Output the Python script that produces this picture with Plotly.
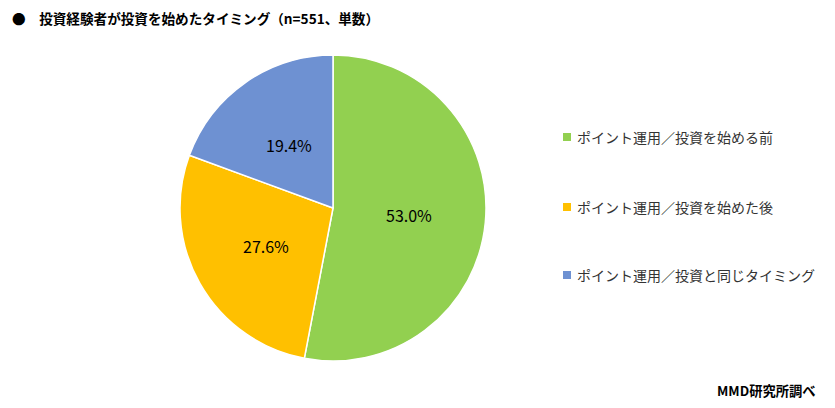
import math
import plotly.graph_objects as go

labels = ["ポイント運用／投資を始める前", "ポイント運用／投資を始めた後", "ポイント運用／投資と同じタイミング"]
values = [53.0, 27.6, 19.4]
colors = ["#92D050", "#FFC000", "#6E91D2"]
title_text = "●　投資経験者が投資を始めたタイミング（n=551、単数）"
source_text = "MMD研究所調べ"

W, H = 835, 408
OFF = 8  # page offset compensation
cx, cy, r = 333 - OFF, 208 - OFF, 153

fig = go.Figure(go.Pie(
    labels=labels, values=values, sort=False, direction="clockwise", rotation=0,
    marker=dict(colors=colors, line=dict(color="white", width=1.5)),
    textinfo="none",
    hoverinfo="label+value", showlegend=False,
    domain=dict(x=[(cx - r) / W, (cx + r) / W], y=[1 - (cy + r) / H, 1 - (cy - r) / H]),
))

font = "Noto Sans CJK JP"
annotations = [
    dict(text="<b>" + title_text + "</b>", x=(10 - OFF) / W, y=1 - (18 - OFF) / H, xref="paper", yref="paper",
         xanchor="left", yanchor="middle", showarrow=False,
         font=dict(family=font, size=13.6, color="#000000")),
    dict(text="<b>" + source_text + "</b>", x=(818 - OFF) / W, y=1 - (390 - OFF) / H, xref="paper", yref="paper",
         xanchor="right", yanchor="middle", showarrow=False,
         font=dict(family=font, size=13.3, color="#000000")),
]

# data labels at half radius, mid-angle of each slice
total = sum(values)
cum = 0.0
for v in values:
    mid = (cum + v / 2) / total * 2 * math.pi
    cum += v
    px = cx + 0.5 * r * math.sin(mid)
    py = cy - 0.5 * r * math.cos(mid)
    annotations.append(dict(text=f"{v:.1f}%", x=px / W, y=1 - py / H, xref="paper", yref="paper",
                            xanchor="center", yanchor="middle", showarrow=False,
                            font=dict(family=font, size=16, color="#000000")))

shapes = []
leg_y = [137, 207, 275]
for lab, col, yy in zip(labels, colors, leg_y):
    yy = yy - OFF
    shapes.append(dict(type="rect", xref="paper", yref="paper",
                       x0=(563 - OFF) / W, x1=(571 - OFF) / W, y0=1 - (yy + 4) / H, y1=1 - (yy - 4) / H,
                       fillcolor=col, line=dict(width=0)))
    annotations.append(dict(text=lab, x=(575 - OFF) / W, y=1 - yy / H, xref="paper", yref="paper",
                            xanchor="left", yanchor="middle", showarrow=False,
                            font=dict(family=font, size=14, color="#333333")))

fig.update_layout(
    width=W, height=H, margin=dict(l=0, r=0, t=0, b=0),
    paper_bgcolor="white", plot_bgcolor="white",
    annotations=annotations, shapes=shapes,
)
fig.write_html("out.html")
